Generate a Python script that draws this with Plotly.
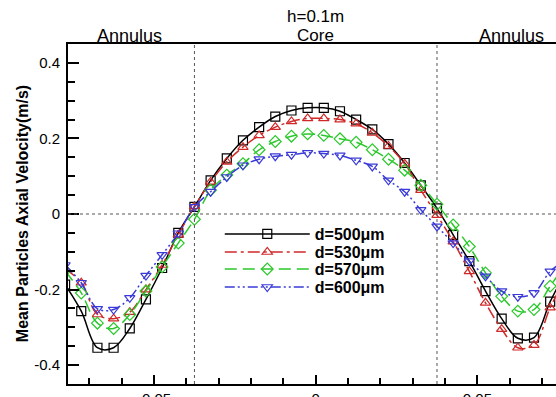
import plotly.graph_objects as go

# ---- data ----
x_pos = [-0.0775, -0.0725, -0.0675, -0.0625, -0.0575, -0.0525, -0.0475, -0.0425,
         -0.0375, -0.0325, -0.0275, -0.0225, -0.0175, -0.0125, -0.0075, -0.0025,
         0.0025, 0.0075, 0.0125, 0.0175, 0.0225, 0.0275, 0.0325, 0.0375,
         0.0425, 0.0475, 0.0525, 0.0575, 0.0625, 0.0675, 0.0725, 0.0775]

v_500 = [-0.187, -0.257, -0.354, -0.354, -0.303, -0.226, -0.143, -0.050,
         0.019, 0.089, 0.147, 0.195, 0.230, 0.258, 0.274, 0.281,
         0.281, 0.272, 0.250, 0.224, 0.185, 0.135, 0.076, 0.015,
         -0.055, -0.125, -0.204, -0.277, -0.329, -0.327, -0.232, -0.150]

v_530 = [-0.145, -0.182, -0.266, -0.277, -0.260, -0.200, -0.135, -0.055,
         0.020, 0.085, 0.138, 0.177, 0.208, 0.230, 0.245, 0.253,
         0.253, 0.250, 0.239, 0.215, 0.180, 0.133, 0.063, -0.003,
         -0.073, -0.152, -0.235, -0.305, -0.354, -0.347, -0.248, -0.165]

v_570 = [-0.150, -0.209, -0.289, -0.303, -0.266, -0.204, -0.140, -0.077,
         -0.014, 0.063, 0.103, 0.133, 0.170, 0.192, 0.206, 0.212,
         0.208, 0.199, 0.190, 0.170, 0.145, 0.116, 0.076, 0.026,
         -0.029, -0.086, -0.156, -0.218, -0.257, -0.253, -0.191, -0.130]

v_600 = [-0.135, -0.182, -0.251, -0.253, -0.222, -0.163, -0.108, -0.051,
         0.019, 0.059, 0.098, 0.129, 0.145, 0.153, 0.157, 0.162,
         0.160, 0.155, 0.142, 0.126, 0.089, 0.059, 0.011, -0.033,
         -0.077, -0.125, -0.165, -0.204, -0.219, -0.209, -0.152, -0.120]

series_names = ["d=500μm", "d=530μm", "d=570μm", "d=600μm"]

x_ticks = [-0.05, 0, 0.05]
x_tick_text = ["-0.05", "0", "0.05"]
y_ticks = [0.4, 0.2, 0, -0.2, -0.4]
y_tick_text = ["0.4", "0.2", "0", "-0.2", "-0.4"]

region_bound = 0.0375

# ---- styles ----
styles = [
    dict(color="#000000", dash="solid", symbol="square-open"),
    dict(color="#d02828", dash="12px,4px,3px,4px", symbol="triangle-up-open"),
    dict(color="#2ac82a", dash="12px,6px", symbol="diamond-open"),
    dict(color="#3a3ad8", dash="10px,3px,2px,3px,2px,3px", symbol="triangle-down-open"),
]
legend_ids = ["legend", "legend2", "legend3", "legend4"]
legend_y = [0.441, 0.388, 0.338, 0.285]

font_family = "Liberation Sans, Arial, sans-serif"

fig = go.Figure()
for name, vals, st, lid in zip(series_names, [v_500, v_530, v_570, v_600], styles, legend_ids):
    fig.add_trace(go.Scatter(
        x=x_pos, y=vals, name=name, mode="lines+markers", legend=lid,
        line=dict(color=st["color"], dash=st["dash"], width=1.5, shape="spline", smoothing=1),
        marker=dict(symbol=st["symbol"], size=9, color=st["color"], line=dict(width=1.2)),
    ))

legend_common = dict(
    x=0.311, xanchor="left", yanchor="middle",
    bgcolor="rgba(0,0,0,0)", borderwidth=0,
    font=dict(size=16, weight="bold", family=font_family),
    itemwidth=85,
)
legends = {}
for lid, ly in zip(legend_ids, legend_y):
    legends[lid] = dict(legend_common, y=ly)

fig.update_layout(
    width=556, height=397,
    margin=dict(l=68, r=0, t=44, b=13, autoexpand=False),
    paper_bgcolor="white", plot_bgcolor="white",
    font=dict(family=font_family, color="black", size=14),
    showlegend=True,
    **legends,
    xaxis=dict(
        range=[-0.0766, 0.0743], showgrid=False, zeroline=False, automargin=False,
        showline=True, linecolor="black", linewidth=2, mirror=True,
        tickmode="array", tickvals=x_ticks, ticktext=x_tick_text,
        ticks="inside", ticklen=9, tickwidth=2, tickcolor="black",
        minor=dict(ticks="inside", ticklen=6, tickwidth=1.5, tickcolor="black",
                   tickmode="linear", tick0=0, dtick=0.01),
        tickfont=dict(size=15),
    ),
    yaxis=dict(
        range=[-0.45, 0.45], showgrid=False, zeroline=False, automargin=False,
        showline=True, linecolor="black", linewidth=2, mirror=False,
        tickmode="array", tickvals=y_ticks, ticktext=y_tick_text,
        ticks="inside", ticklen=11, tickwidth=2, tickcolor="black",
        minor=dict(ticks="inside", ticklen=7, tickwidth=1.5, tickcolor="black",
                   tickmode="linear", tick0=0, dtick=0.05),
        tickfont=dict(size=15),
        ticklabelstandoff=3,
    ),
    shapes=[
        dict(type="line", xref="x", yref="paper", x0=-region_bound, x1=-region_bound, y0=0, y1=1,
             line=dict(color="#555555", width=1, dash="dot")),
        dict(type="line", xref="x", yref="paper", x0=region_bound, x1=region_bound, y0=0, y1=1,
             line=dict(color="#555555", width=1, dash="dot")),
        dict(type="line", xref="paper", yref="y", x0=0, x1=1, y0=0, y1=0,
             line=dict(color="#555555", width=1, dash="dot")),
    ],
    annotations=[
        dict(text="h=0.1m", x=0, xref="x", y=1.081, yref="paper", showarrow=False,
             font=dict(size=17), xanchor="center", yanchor="middle"),
        dict(text="Core", x=0, xref="x", y=1.024, yref="paper", showarrow=False,
             font=dict(size=17), xanchor="center", yanchor="middle"),
        dict(text="Annulus", x=-0.0575, xref="x", y=1.024, yref="paper", showarrow=False,
             font=dict(size=18), xanchor="center", yanchor="middle"),
        dict(text="Annulus", x=0.0605, xref="x", y=1.024, yref="paper", showarrow=False,
             font=dict(size=18), xanchor="center", yanchor="middle"),
        dict(text="Mean Particles Axial Velocity(m/s)", x=-0.094, xref="paper", y=0.5, yref="paper",
             showarrow=False, textangle=-90, font=dict(size=16, weight="bold"),
             xanchor="center", yanchor="middle"),
    ],
)

fig.write_html("out.html", config={"displayModeBar": False})

# remove default page margin so the figure sits at the window's top-left corner
with open("out.html", "r", encoding="utf-8") as f:
    html = f.read()
html = html.replace("<head>", "<head><style>html,body{margin:0;padding:0;overflow:hidden;}</style>", 1)
with open("out.html", "w", encoding="utf-8") as f:
    f.write(html)
